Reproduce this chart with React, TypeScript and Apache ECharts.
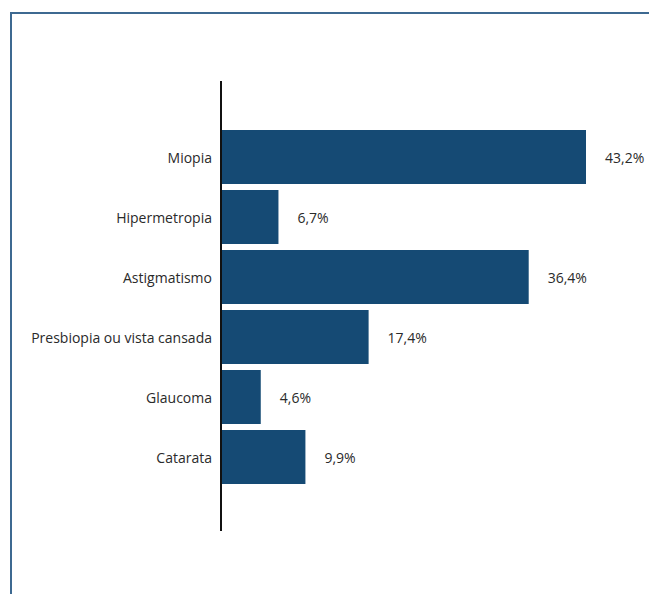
import React, { useEffect, useRef } from "react";
import * as echarts from "echarts";

const categories = ["Miopia", "Hipermetropia", "Astigmatismo", "Presbiopia ou vista cansada", "Glaucoma", "Catarata"];
const values = [43.2, 6.7, 36.4, 17.4, 4.6, 9.9];

export default function App() {
  const ref = useRef<HTMLDivElement>(null);
  useEffect(() => {
    const chart = echarts.init(ref.current!, null, { renderer: "svg" });
    const font = "Open Sans";
    chart.setOption({
      animation: false,
      textStyle: { fontFamily: font },
      grid: { left: 222, top: 127, width: 421.3, height: 360 },
      xAxis: { type: "value", min: 0, max: 50, show: false },
      yAxis: {
        type: "category",
        data: categories,
        inverse: true,
        axisLine: { show: false },
        axisTick: { show: false },
        axisLabel: { margin: 10, fontSize: 14, color: "#2a2a2a", fontFamily: font },
      },
      series: [
        {
          type: "bar",
          data: values,
          barWidth: 54,
          itemStyle: { color: "#154a74" },
          label: {
            show: true,
            position: "right",
            distance: 19,
            fontSize: 14,
            color: "#2a2a2a",
            fontFamily: font,
            formatter: (p: any) => p.value.toFixed(1).replace(".", ",") + "%",
          },
        },
      ],
      graphic: [
        {
          type: "rect",
          shape: { x: 11, y: 13, width: 800, height: 800 },
          style: { fill: "none", stroke: "#3d6991", lineWidth: 2 },
          silent: true,
        },
        {
          type: "line",
          shape: { x1: 221, y1: 81, x2: 221, y2: 531 },
          style: { stroke: "#111", lineWidth: 2 },
          silent: true,
        },
      ],
    });
    return () => chart.dispose();
  }, []);
  return <div ref={ref} style={{ position: "absolute", left: 0, top: 0, width: 649, height: 594 }} />;
}
